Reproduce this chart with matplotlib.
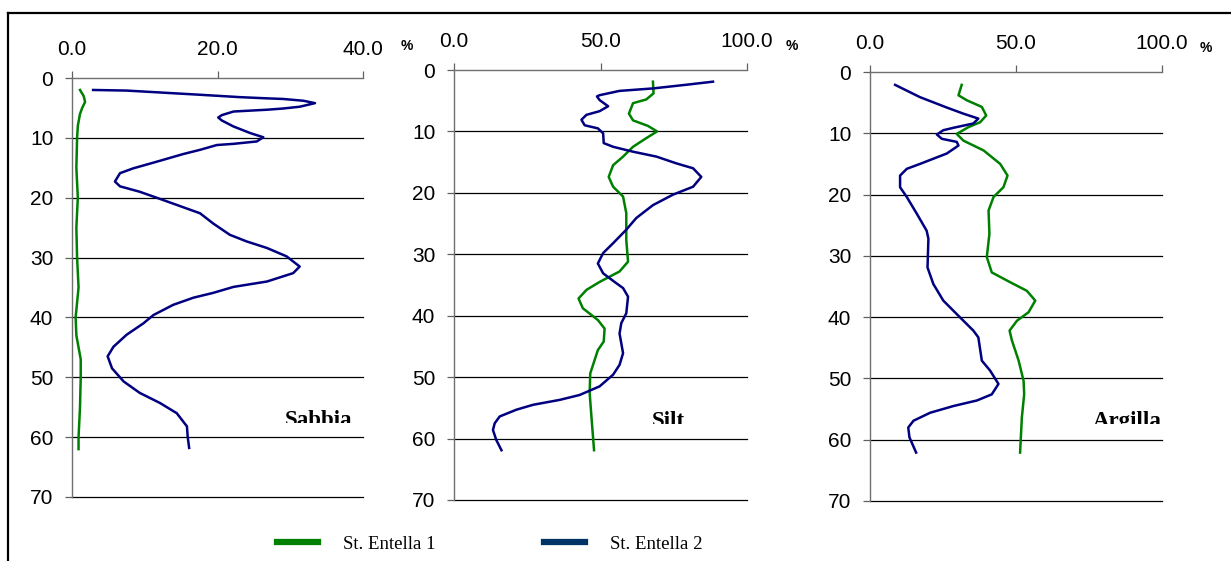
import matplotlib
matplotlib.use("Agg")
import matplotlib.pyplot as plt
from matplotlib.lines import Line2D
from matplotlib.transforms import Bbox, TransformedBbox
import numpy as np

W, H = 1231, 561

# --- Sabbia (sand, %) ---
sab1_depth = [2, 3, 4, 5, 6, 8, 10, 15, 20, 25, 30, 35, 40, 43, 47, 50, 55, 60, 62]
sab1_val = [1.1, 1.6, 1.8, 1.4, 1.1, 0.8, 0.7, 0.6, 0.8, 0.6, 0.7, 0.9, 0.5,
            0.6, 1.2, 1.2, 1.1, 0.9, 0.9]
sab2_depth = [2.0, 2.1, 2.8, 3.2, 3.4, 3.5, 3.8, 4.2, 4.8, 5.1, 5.3, 5.6, 6.2,
              6.6, 7.1, 8.1, 9.2, 9.9, 10.6, 11.0, 11.2, 12.0, 12.7, 14.0,
              15.1, 15.9, 17.3, 18.1, 19.0, 20.2, 22.6, 24.3, 26.2, 27.3,
              28.4, 29.8, 31.5, 32.6, 34.0, 34.9, 35.9, 36.7, 37.9, 39.6,
              41.0, 42.9, 44.9, 46.5, 48.5, 50.7, 52.6, 54.3, 56.0, 58.2,
              59.9, 61.8]
sab2_val = [2.9, 7.5, 17.6, 23.1, 26.8, 29.0, 31.8, 33.4, 31.3, 29.0, 26.8,
            22.2, 20.6, 20.1, 20.6, 22.2, 24.5, 26.3, 25.4, 22.2, 19.9, 17.6,
            15.3, 11.6, 8.4, 6.6, 5.9, 6.6, 9.3, 12.1, 17.6, 19.4, 21.7, 24.0,
            26.8, 29.5, 31.3, 30.4, 26.8, 22.2, 19.4, 16.7, 13.9, 11.2, 9.8,
            7.5, 5.7, 4.9, 5.5, 7.1, 9.3, 12.1, 14.4, 15.8, 15.9, 16.1]

# --- Silt (%) ---
silt1_depth = [1.9, 3.8, 4.8, 5.4, 7.1, 8.2, 9.1, 10.0, 11.1, 12.5, 14.1, 15.5,
               17.4, 19.0, 20.6, 23.3, 27.7, 31.2, 32.8, 34.5, 35.8, 37.2,
               38.8, 40.7, 42.1, 44.2, 45.6, 47.2, 49.4, 52.6, 56.4, 61.9]
silt1_val = [67.9, 68.1, 65.6, 61.1, 59.7, 61.1, 66.2, 69.3, 65.6, 61.1, 57.7,
             54.3, 52.8, 54.3, 57.7, 58.8, 58.8, 59.4, 56.5, 49.7, 45.2, 42.5,
             44.0, 49.1, 51.4, 51.1, 49.1, 48.0, 46.5, 46.3, 46.9, 47.8]
silt2_depth = [1.9, 2.4, 3.0, 3.4, 4.1, 4.3, 4.9, 5.9, 6.7, 7.3, 8.1, 9.0, 9.5,
               10.3, 11.9, 12.5, 13.3, 14.1, 15.2, 16.0, 17.4, 19.0, 20.3,
               22.0, 24.1, 26.0, 28.2, 29.8, 31.5, 33.1, 34.5, 35.5, 36.9,
               39.6, 41.2, 42.9, 46.1, 48.0, 49.6, 51.5, 52.9, 53.7, 54.5,
               55.3, 56.4, 57.5, 58.6, 60.2, 61.9]
silt2_val = [88.4, 79.3, 67.9, 56.5, 49.7, 48.8, 49.7, 52.6, 49.7, 45.2, 43.5,
             44.6, 49.1, 50.9, 51.1, 54.3, 61.1, 69.1, 75.9, 81.6, 84.4, 81.6,
             74.7, 67.9, 62.2, 58.8, 54.3, 50.9, 49.1, 50.9, 54.8, 57.7, 59.4,
             58.8, 57.1, 56.5, 57.7, 56.5, 54.3, 49.7, 42.9, 36.1, 27.0, 21.3,
             15.6, 13.9, 13.3, 14.4, 16.2]

# --- Argilla (clay, %) ---
arg1_depth = [2.1, 3.8, 4.6, 5.7, 7.1, 8.2, 9.0, 10.1, 11.2, 12.8, 15.0, 16.9,
              18.8, 20.4, 22.6, 26.4, 30.2, 32.7, 34.3, 35.7, 37.3, 39.2,
              40.6, 42.2, 43.8, 47.1, 50.4, 52.6, 56.4, 62.1]
arg1_val = [31.4, 30.3, 33.1, 38.3, 39.8, 37.7, 33.7, 29.7, 32.0, 38.9, 44.6,
            47.1, 45.7, 42.3, 40.6, 40.9, 40.0, 41.7, 48.0, 53.7, 56.6, 54.3,
            50.3, 47.8, 48.6, 50.9, 52.6, 52.8, 52.0, 51.4]
arg2_depth = [2.1, 4.1, 5.8, 6.8, 7.6, 8.4, 9.1, 9.5, 10.2, 10.9, 11.4, 12.0,
              13.3, 15.0, 15.8, 16.9, 18.8, 20.4, 23.1, 25.9, 27.2, 31.9,
              34.6, 37.3, 39.5, 42.2, 43.3, 47.1, 48.7, 50.9, 52.6, 53.6,
              54.5, 55.6, 56.9, 58.0, 59.6, 62.1]
arg2_val = [8.6, 17.1, 26.3, 32.0, 37.1, 35.4, 28.6, 25.1, 22.9, 24.6, 29.7,
            30.3, 26.3, 17.1, 12.6, 10.3, 10.3, 12.6, 16.0, 19.4, 20.0, 19.7,
            21.7, 25.1, 29.7, 35.4, 37.1, 38.3, 41.1, 44.0, 41.7, 36.6, 28.6,
            20.6, 14.9, 13.1, 13.5, 15.8]

panel_names = ["Sabbia", "Silt", "Argilla"]
x_max = [40, 100, 100]
x_ticks = [[0, 20, 40], [0, 50, 100], [0, 50, 100]]
y_ticks = [0, 10, 20, 30, 40, 50, 60, 70]
series_labels = ["St. Entella 1", "St. Entella 2"]

GREEN = "#008000"
NAVY = "#000080"

# axes boxes in pixels: left, right, top, bottom
boxes = [(72, 363, 78, 497), (454, 747, 70, 500), (870, 1162, 72, 501)]
# name label: x pixel, alignment, baseline pixel
name_pos = [(352, "right", 426), (652, "left", 427), (1162, "right", 427)]
pct_pos = [(407, 46), (792, 46), (1206, 48)]
clip_y = [423, 424, 424]

data = [(sab1_depth, sab1_val, sab2_depth, sab2_val),
        (silt1_depth, silt1_val, silt2_depth, silt2_val),
        (arg1_depth, arg1_val, arg2_depth, arg2_val)]

fig = plt.figure(figsize=(W / 100, H / 100), dpi=100)
plt.rcParams["font.family"] = ["Liberation Sans", "DejaVu Sans"]

for i, (l, r, t, b) in enumerate(boxes):
    ax = fig.add_axes([l / W, 1 - b / H, (r - l) / W, (b - t) / H])
    d1, v1, d2, v2 = data[i]
    ax.plot(v1, d1, color=GREEN, lw=1.8, solid_joinstyle="round")
    ax.plot(v2, d2, color=NAVY, lw=1.8, solid_joinstyle="round")
    ax.set_xlim(0, x_max[i])
    ax.set_ylim(70, 0)
    ax.xaxis.tick_top()
    ax.set_xticks(x_ticks[i])
    ax.set_xticklabels([f"{v:.1f}" for v in x_ticks[i]])
    ax.set_yticks(y_ticks)
    ax.set_yticklabels([str(v) for v in y_ticks])
    ax.tick_params(axis="x", direction="out", length=5, width=0.9,
                   color="#606060", pad=9, labelsize=15)
    ax.tick_params(axis="y", direction="out", length=5, width=0.9,
                   color="#606060", pad=8.5, labelsize=15)
    ax.yaxis.grid(True, color="black", lw=0.9)
    grid = ax.get_ygridlines()
    grid[0].set_visible(False)
    for g in grid:
        g.set_clip_on(False)
    ax.set_axisbelow(True)
    for s in ("right", "bottom"):
        ax.spines[s].set_visible(False)
    for s in ("left", "top"):
        ax.spines[s].set_color("#707070")
        ax.spines[s].set_linewidth(1.0)
    ax.patch.set_visible(False)

    x, ha, base = name_pos[i]
    txt = fig.text(x / W, 1 - base / H, panel_names[i], ha=ha, va="baseline",
                   fontsize=16.5, fontweight="bold",
                   family=["Liberation Serif", "DejaVu Serif"])
    clip = TransformedBbox(Bbox([[0, 1 - clip_y[i] / H], [1, 1]]),
                           fig.transFigure)
    txt.set_clip_on(True)
    txt.set_clip_box(clip)

    px, py = pct_pos[i]
    fig.text(px / W, 1 - py / H, "%", ha="center", va="center",
             fontsize=10, fontweight="bold")

# outer frame (top and left edges only visible)
fig.add_artist(Line2D([8 / W, 1], [1 - 13 / H, 1 - 13 / H], color="black",
                      lw=1.6, transform=fig.transFigure))
fig.add_artist(Line2D([8 / W, 8 / W], [0, 1 - 13 / H], color="black",
                      lw=1.6, transform=fig.transFigure))

handles = [Line2D([], [], color=GREEN, lw=4.5),
           Line2D([], [], color="#003366", lw=4.5)]
fig.legend(handles, series_labels, loc="center left",
           bbox_to_anchor=(277 / W, 1 - 544 / H), ncol=2, frameon=False,
           borderpad=0, borderaxespad=0, handlelength=2.2,
           handletextpad=1.3, columnspacing=5.8,
           prop={"family": ["Liberation Serif", "DejaVu Serif"], "size": 13.5})

fig.savefig("out.png", dpi=100)
